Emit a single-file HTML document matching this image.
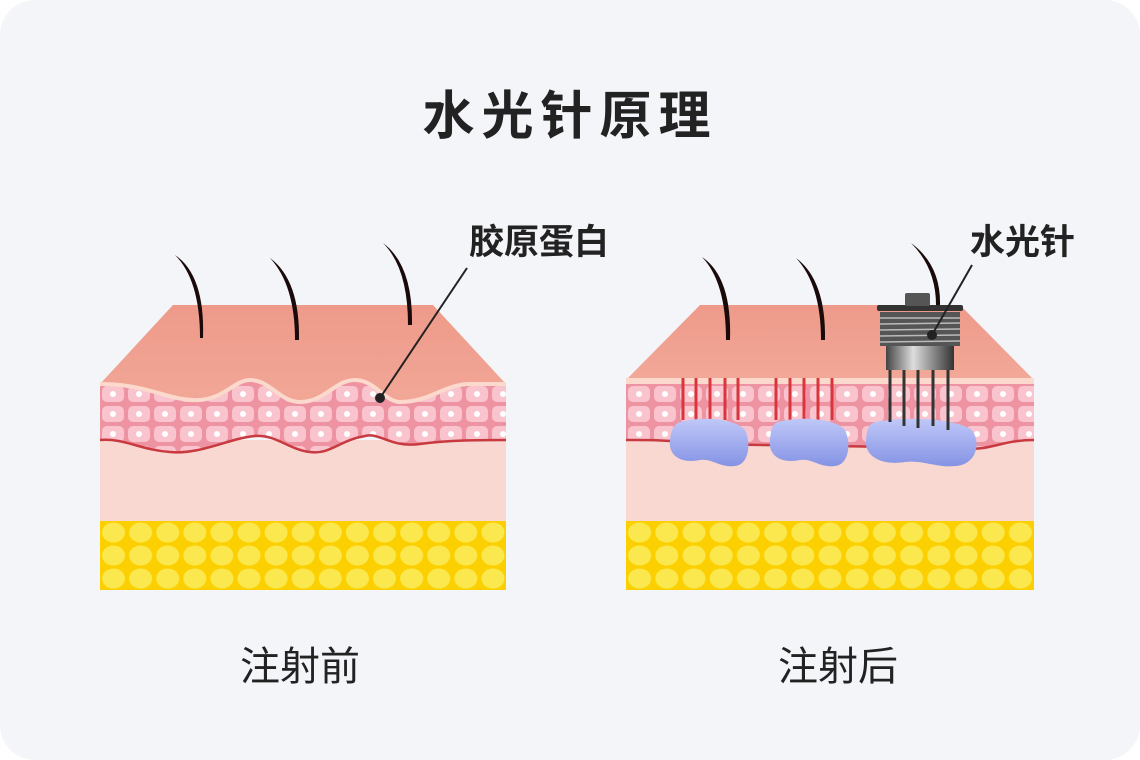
<!DOCTYPE html>
<html><head><meta charset="utf-8"><style>
html,body{margin:0;padding:0;background:#fff;}
svg{display:block;}
</style></head><body>
<svg width="1140" height="760" viewBox="0 0 1140 760" xmlns="http://www.w3.org/2000/svg">
<defs>
<pattern id="cells" x="100" y="384" width="26" height="20" patternUnits="userSpaceOnUse">
<rect width="26" height="20" fill="#ee93a2"/>
<rect x="2" y="2" width="22" height="16" rx="5" fill="#f9c4cd"/>
<circle cx="13" cy="10" r="3" fill="#fff"/>
</pattern>
<pattern id="cells2" x="626" y="384" width="26" height="20" patternUnits="userSpaceOnUse">
<rect width="26" height="20" fill="#ee93a2"/>
<rect x="2" y="2" width="22" height="16" rx="5" fill="#f9c4cd"/>
<circle cx="13" cy="10" r="3" fill="#fff"/>
</pattern>
<pattern id="fat" x="100" y="521" width="27.1" height="23" patternUnits="userSpaceOnUse">
<rect width="27.1" height="23" fill="#fcd000"/>
<ellipse cx="13.5" cy="11.5" rx="11.5" ry="10" fill="#fbe84e"/>
</pattern>
<pattern id="fat2" x="626" y="521" width="27.2" height="23" patternUnits="userSpaceOnUse">
<rect width="27.2" height="23" fill="#fcd000"/>
<ellipse cx="13.6" cy="11.5" rx="11.5" ry="10" fill="#fbe84e"/>
</pattern>
<linearGradient id="top" x1="0" y1="0" x2="0" y2="1"><stop offset="0" stop-color="#ee9a8a"/><stop offset="1" stop-color="#f2a898"/></linearGradient>
<linearGradient id="blob" x1="0" y1="0" x2="0" y2="1"><stop offset="0" stop-color="#c0c8f8"/><stop offset="1" stop-color="#8593e4"/></linearGradient>
<linearGradient id="metal" x1="0" y1="0" x2="1" y2="0"><stop offset="0" stop-color="#444"/><stop offset="0.4" stop-color="#ddd"/><stop offset="1" stop-color="#333"/></linearGradient>
</defs>
<rect x="0" y="0" width="1140" height="760" rx="35" fill="#f4f5f9"/>
<text x="570" y="134" text-anchor="middle" font-family="Liberation Sans, Noto Sans CJK SC, sans-serif" font-weight="bold" font-size="52" fill="#222" letter-spacing="7">水光针原理</text>

<!-- LEFT -->
<polygon points="173,305 433,305 506,384 506,410 100,410 100,384" fill="url(#top)"/>
<rect x="100" y="440" width="406" height="82" fill="#f8d8d0"/>
<path d="M100,384 C150,384 170,402 200,400 C225,398 235,380 250,380 C270,380 280,402 300,402 C325,402 335,380 355,380 C375,380 385,402 400,402 C430,402 445,384 470,384 L506,384 L506,440 C480,440 450,440 420,444 C390,448 380,432 365,436 C340,440 330,455 310,452 C290,450 275,434 255,436 C230,438 200,455 170,452 C140,450 125,438 100,440 Z" fill="url(#cells)"/>
<path d="M100,384 C150,384 170,402 200,400 C225,398 235,380 250,380 C270,380 280,402 300,402 C325,402 335,380 355,380 C375,380 385,402 400,402 C430,402 445,384 470,384 L506,384" fill="none" stroke="#fbd9cc" stroke-width="4"/>
<path d="M506,440 C480,440 450,440 420,444 C390,448 380,432 365,436 C340,440 330,455 310,452 C290,450 275,434 255,436 C230,438 200,455 170,452 C140,450 125,438 100,440" fill="none" stroke="#c83a40" stroke-width="2.5"/>
<rect x="100" y="521" width="406" height="69" fill="url(#fat)"/>
<g fill="#1a0a0a">
<path d="M175,255 Q205,275 203,338 L200,338 Q200,280 175,255Z"/>
<path d="M270,258 Q300,280 299,340 L295,340 Q295,285 270,258Z"/>
<path d="M383,243 Q413,265 412,325 L408,325 Q408,268 383,243Z"/>
</g>
<line x1="467" y1="268" x2="380" y2="398" stroke="#222" stroke-width="2"/>
<circle cx="380" cy="398" r="5" fill="#222"/>
<text x="469" y="254" font-family="Liberation Sans, Noto Sans CJK SC, sans-serif" font-weight="bold" font-size="35" fill="#222">胶原蛋白</text>
<text x="300" y="680" text-anchor="middle" font-family="Liberation Sans, Noto Sans CJK SC, sans-serif" font-size="40" fill="#222">注射前</text>

<!-- RIGHT -->
<polygon points="700,305 960,305 1034,380 626,380" fill="url(#top)"/>
<rect x="626" y="378" width="408" height="6" fill="#fbd9cc"/>
<rect x="626" y="440" width="408" height="82" fill="#f8d8d0"/>
<path d="M626,384 L1034,384 L1034,440 C1000,440 990,452 960,448 L700,444 C670,440 650,440 626,440 Z" fill="url(#cells2)"/>
<path d="M1034,440 C1000,440 990,452 960,448 L700,444 C670,440 650,440 626,440" fill="none" stroke="#c83a40" stroke-width="2.5"/>
<rect x="626" y="521" width="408" height="69" fill="url(#fat2)"/>
<g stroke="#d8363c" stroke-width="3">
<line x1="683" y1="378" x2="683" y2="420"/><line x1="696" y1="378" x2="696" y2="420"/><line x1="710" y1="378" x2="710" y2="420"/><line x1="725" y1="378" x2="725" y2="420"/><line x1="738" y1="378" x2="738" y2="420"/>
<line x1="776" y1="378" x2="776" y2="420"/><line x1="790" y1="378" x2="790" y2="420"/><line x1="804" y1="378" x2="804" y2="420"/><line x1="818" y1="378" x2="818" y2="420"/><line x1="832" y1="378" x2="832" y2="420"/>
</g>
<path d="M680,422 C700,416 735,418 745,430 C752,445 748,465 735,466 C720,468 712,458 700,460 C680,464 668,455 670,440 C671,430 674,424 680,422Z" fill="url(#blob)"/>
<path d="M778,422 C798,416 835,418 845,430 C852,445 848,465 835,466 C820,468 812,458 800,460 C780,464 768,455 770,440 C771,430 772,424 778,422Z" fill="url(#blob)"/>
<path d="M875,422 C905,416 955,418 972,430 C982,445 975,465 955,466 C935,468 925,460 905,462 C880,466 864,455 866,440 C867,430 868,424 875,422Z" fill="url(#blob)"/>
<g fill="#1a0a0a">
<path d="M702,257 Q732,277 730,340 L726,340 Q726,282 702,257Z"/>
<path d="M796,258 Q826,280 825,340 L821,340 Q821,285 796,258Z"/>
<path d="M911,243 Q941,265 940,305 L936,305 Q936,268 911,243Z"/>
</g>
<g stroke="#333" stroke-width="3">
<line x1="890" y1="368" x2="890" y2="422"/><line x1="904" y1="368" x2="904" y2="426"/><line x1="918" y1="368" x2="918" y2="428"/><line x1="933" y1="368" x2="933" y2="426"/><line x1="948" y1="368" x2="948" y2="430"/>
</g>
<rect x="886" y="343" width="68" height="27" fill="url(#metal)"/>
<rect x="880" y="312" width="80" height="34" fill="#555"/>
<g stroke="#bbb" stroke-width="1.5">
<line x1="880" y1="318" x2="960" y2="318"/><line x1="880" y1="324" x2="960" y2="323"/><line x1="880" y1="330" x2="960" y2="329"/><line x1="880" y1="336" x2="960" y2="335"/><line x1="880" y1="342" x2="960" y2="341"/>
</g>
<rect x="877" y="305" width="86" height="6" rx="2" fill="#333"/>
<rect x="905" y="293" width="25" height="13" rx="2" fill="#555"/>
<line x1="972" y1="265" x2="932" y2="335" stroke="#222" stroke-width="2"/>
<circle cx="932" cy="335" r="5" fill="#222"/>
<text x="970" y="254" font-family="Liberation Sans, Noto Sans CJK SC, sans-serif" font-weight="bold" font-size="35" fill="#222">水光针</text>
<text x="838" y="680" text-anchor="middle" font-family="Liberation Sans, Noto Sans CJK SC, sans-serif" font-size="40" fill="#222">注射后</text>
</svg>
</body></html>
